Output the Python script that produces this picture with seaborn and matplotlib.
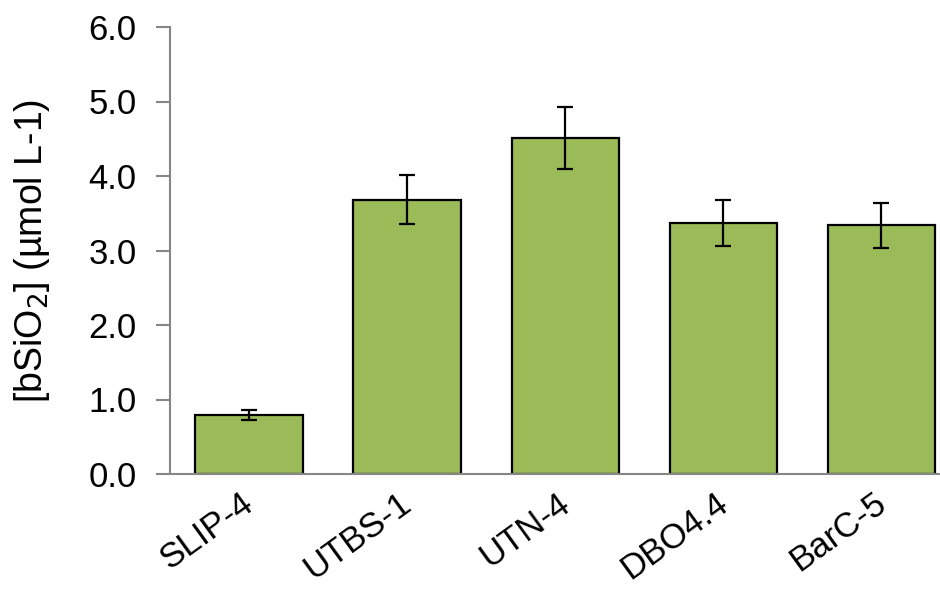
import matplotlib
matplotlib.use("Agg")
import matplotlib.pyplot as plt
import matplotlib.transforms as mtransforms
import seaborn as sns
import pandas as pd
import numpy as np

categories = ["SLIP-4", "UTBS-1", "UTN-4", "DBO4.4", "BarC-5"]
values = [0.79, 3.68, 4.51, 3.37, 3.34]
errors = [0.07, 0.33, 0.41, 0.31, 0.30]
yticks = [0.0, 1.0, 2.0, 3.0, 4.0, 5.0, 6.0]

sns.set_theme(style="white")
plt.rcParams['font.family'] = ['Liberation Sans', 'DejaVu Sans']
plt.rcParams['text.color'] = 'black'
plt.rcParams['axes.labelcolor'] = 'black'
plt.rcParams['xtick.color'] = 'black'
plt.rcParams['ytick.color'] = 'black'

df = pd.DataFrame({"site": categories, "val": values})

fig = plt.figure(figsize=(9.4, 5.9), dpi=100)
ax = fig.add_axes([170/940, 1-474/590, 1-170/940, (474-27)/590])

sns.barplot(data=df, x="site", y="val", color="#9BBB59", edgecolor="black",
            linewidth=1.6, width=0.68, saturation=1, errorbar=None, ax=ax)
ax.errorbar(np.arange(len(categories)), values, yerr=errors, fmt="none",
            ecolor="black", elinewidth=1.6, capsize=6, capthick=1.6)

ax.set_yticks(yticks)
ax.set_yticklabels([f"{v:.1f}" for v in yticks], fontsize=25)
ax.set_xticks(np.arange(len(categories)))
ax.set_xticklabels(categories, fontsize=25, rotation=36, ha="right",
                   rotation_mode="anchor")
ax.tick_params(axis="x", which="major", length=0, pad=9)
shift = mtransforms.ScaledTranslation(-9/100, 0, fig.dpi_scale_trans)
for lab in ax.get_xticklabels():
    lab.set_transform(lab.get_transform() + shift)
ax.set_xticks(np.arange(-0.5, 4.0, 1.0), minor=True)
ax.tick_params(axis="x", which="minor", length=10, width=1.5, color="#868686", direction="out")
ax.tick_params(axis="y", length=10, width=1.5, color="#868686", labelcolor="black",
               direction="out", pad=14, left=True)
ax.set_ylim(0, 6)
ax.set_xlim(-0.5, 4.37)
for s in ["top", "right"]:
    ax.spines[s].set_visible(False)
for s in ["left", "bottom"]:
    ax.spines[s].set_color("#868686")
    ax.spines[s].set_linewidth(1.5)
ax.set_xlabel("")
ax.set_ylabel("[bSiO$_2$] (µmol L-1)", fontsize=27, labelpad=26)

fig.savefig("out.png", dpi=100)
